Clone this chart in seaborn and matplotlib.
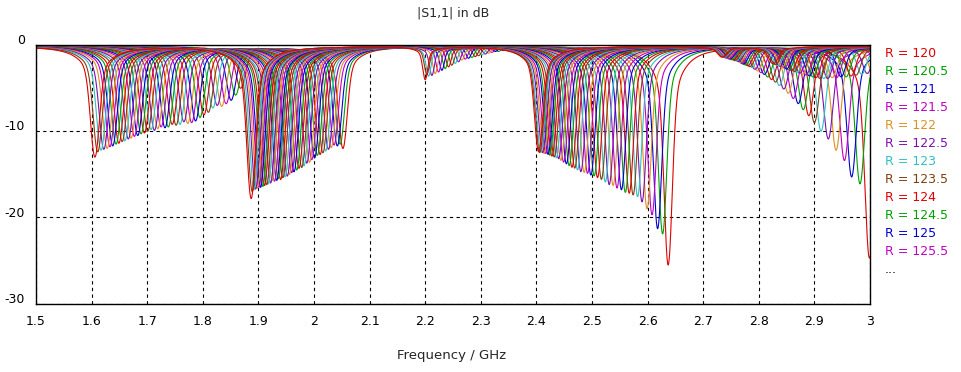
import numpy as np
import pandas as pd
import matplotlib
matplotlib.use("Agg")
import matplotlib.pyplot as plt
import matplotlib.transforms as mtrans
import seaborn as sns

# ---------------- data ----------------
R_values = [120, 120.5, 121, 121.5, 122, 122.5, 123, 123.5, 124, 124.5, 125, 125.5,
            126, 126.5, 127, 127.5, 128, 128.5, 129, 129.5, 130, 130.5, 131, 131.5,
            132, 132.5, 133, 133.5, 134, 134.5, 135, 135.5, 136, 136.5, 137, 137.5,
            138, 138.5, 139, 139.5, 140]

# resonance 1 (1.6 - 1.87 GHz): dip frequency (GHz) and dip depth (dB) per R
band1_freq = [1.868, 1.859, 1.851, 1.842, 1.834, 1.826, 1.818, 1.810, 1.802, 1.795, 1.787,
              1.780, 1.773, 1.766, 1.759, 1.752, 1.745, 1.738, 1.732, 1.725, 1.719, 1.713,
              1.707, 1.701, 1.695, 1.689, 1.683, 1.677, 1.671, 1.666, 1.660, 1.655, 1.649,
              1.644, 1.638, 1.633, 1.628, 1.622, 1.617, 1.611, 1.606]
band1_depth = [-4.8, -5.6, -6.2, -6.6, -6.9, -6.8, -7.1, -7.6, -7.9, -8.2, -8.6, -8.8, -8.9,
               -8.7, -9.0, -9.1, -9.0, -9.3, -9.4, -9.3, -9.5, -9.7, -9.6, -9.8, -10.0, -10.1,
               -10.3, -10.4, -10.6, -10.7, -10.9, -11.0, -11.2, -11.3, -11.5, -11.6, -11.8,
               -11.9, -12.0, -12.2, -12.8]

# resonance 2 (1.89 - 2.05 GHz)
band2_freq = [2.052, 2.047, 2.042, 2.036, 2.031, 2.026, 2.021, 2.016, 2.011, 2.006, 2.001,
              1.996, 1.992, 1.987, 1.982, 1.978, 1.973, 1.969, 1.964, 1.960, 1.956, 1.952,
              1.948, 1.944, 1.940, 1.936, 1.933, 1.929, 1.925, 1.922, 1.918, 1.915, 1.911,
              1.908, 1.904, 1.901, 1.898, 1.895, 1.892, 1.889, 1.887]
band2_depth = [-11.8, -11.3, -11.5, -11.4, -11.7, -11.9, -12.1, -12.3, -12.5, -12.6, -12.9,
               -13.1, -13.4, -13.5, -13.8, -14.0, -14.1, -14.3, -14.5, -14.6, -14.8, -15.0,
               -15.1, -15.2, -15.4, -15.3, -15.5, -15.6, -15.5, -15.8, -15.9, -16.0, -16.1,
               -16.2, -16.3, -16.3, -16.4, -16.5, -16.6, -16.8, -17.6]

# weak resonance near 2.2 - 2.34 GHz
weak_freq = [2.40, 2.40, 2.40, 2.40, 2.40, 2.40, 2.40, 2.40, 2.40, 2.40, 2.40, 2.40,
             2.40, 2.40, 2.40, 2.40, 2.340, 2.332, 2.326, 2.320, 2.314, 2.308, 2.302,
             2.296, 2.290, 2.284, 2.278, 2.272, 2.266, 2.260, 2.254, 2.248, 2.242, 2.236,
             2.230, 2.224, 2.218, 2.212, 2.206, 2.203, 2.200]
weak_depth = [0.0, 0.0, 0.0, 0.0, 0.0, 0.0, 0.0, 0.0, 0.0, 0.0, 0.0, 0.0, 0.0, 0.0, 0.0,
              0.0, -0.4, -0.5, -0.5, -0.6, -0.7, -0.8, -0.9, -1.0, -1.1, -1.2, -1.3, -1.4,
              -1.5, -1.7, -1.9, -2.1, -2.3, -2.5, -2.7, -2.9, -3.1, -3.3, -3.4, -3.2, -3.8]

# resonance 3 (2.40 - 2.64 GHz)
band3_freq = [2.637, 2.627, 2.618, 2.608, 2.599, 2.590, 2.582, 2.574, 2.567, 2.560, 2.553,
              2.545, 2.538, 2.531, 2.524, 2.517, 2.510, 2.504, 2.498, 2.492, 2.486, 2.480,
              2.474, 2.469, 2.464, 2.459, 2.454, 2.449, 2.444, 2.440, 2.436, 2.432, 2.428,
              2.424, 2.421, 2.417, 2.414, 2.411, 2.408, 2.406, 2.404]
band3_depth = [-25.3, -21.7, -21.1, -19.5, -18.8, -18.0, -17.4, -17.2, -17.0, -16.9, -16.6,
               -16.4, -16.1, -16.0, -15.7, -15.4, -15.2, -15.0, -14.9, -14.7, -14.6, -14.5,
               -14.3, -14.1, -14.0, -13.8, -13.6, -13.4, -13.2, -13.0, -12.9, -12.8, -12.7,
               -12.6, -12.5, -12.4, -12.4, -12.3, -12.2, -12.3, -12.2]

# resonance 4 (2.73 - 3.0 GHz)
band4_freq = [2.999, 2.982, 2.967, 2.954, 2.939, 2.925, 2.912, 2.900, 2.890, 2.880, 2.871,
              2.862, 2.853, 2.845, 2.837, 2.830, 2.823, 2.816, 2.810, 2.804, 2.798, 2.793,
              2.788, 2.784, 2.780, 2.776, 2.772, 2.769, 2.766, 2.763, 2.760, 2.757, 2.754,
              2.751, 2.748, 2.746, 2.743, 2.741, 2.738, 2.736, 2.734]
band4_depth = [-24.5, -15.9, -15.1, -13.2, -12.0, -10.7, -9.8, -8.8, -8.0, -7.3, -6.6, -6.0,
               -5.4, -4.9, -4.5, -4.1, -3.8, -3.5, -3.2, -3.0, -2.8, -2.6, -2.4, -2.3, -2.2,
               -2.1, -2.0, -1.9, -1.8, -1.7, -1.6, -1.6, -1.5, -1.5, -1.4, -1.4, -1.3, -1.3,
               -1.2, -1.2, -1.2]

# resonance 5 (entering from above 3 GHz)
band5_freq = [3.200, 3.180, 3.160, 3.140, 3.120, 3.100, 3.085, 3.070, 3.055, 3.040, 3.028,
              3.016, 3.005, 2.995, 2.985, 2.975, 2.966, 2.957, 2.948, 2.940, 2.932, 2.924,
              2.917, 2.910, 2.903, 2.897, 2.891, 2.885, 2.879, 2.874, 2.869, 2.864, 2.859,
              2.854, 2.850, 2.846, 2.842, 2.838, 2.834, 2.830, 2.826]
band5_depth = [-2.6, -2.6, -2.6, -2.7, -2.7, -2.7, -2.8, -2.8, -2.8, -2.9, -2.9, -3.0,
               -3.0, -3.1, -3.2, -3.3, -3.4, -3.5, -3.5, -3.6, -3.6, -3.7, -3.7, -3.7, -3.6,
               -3.5, -3.4, -3.3, -3.2, -3.1, -3.0, -2.9, -2.8, -2.7, -2.6, -2.5, -2.4, -2.3,
               -2.2, -2.1, -2.0]

baseline_db = -0.2
band_width = [0.011, 0.0105, 0.006, 0.010, 0.011, 0.011]   # GHz, dip core width per band
core_share = 0.75

line_colors = ['#e00000', '#00a000', '#0000d0', '#c000c0',
               '#e09020', '#7a10b0', '#30c0c0', '#804010']

# ---------------- build curves ----------------
freq = np.linspace(1.5, 3.0, 3001)


def dip_db(f, f0, depth_db, s):
    u = (f - f0) / s
    shape = core_share * np.exp(-u ** 2) + (1 - core_share) / (1 + (u / 2.5) ** 2)
    return depth_db * shape


bands = [(band1_freq, band1_depth), (band2_freq, band2_depth), (weak_freq, weak_depth),
         (band3_freq, band3_depth), (band4_freq, band4_depth), (band5_freq, band5_depth)]

frames = []
labels = [f"R = {r:g}" for r in R_values]
for i, lab in enumerate(labels):
    db = np.full_like(freq, baseline_db)
    for (bf, bd), s in zip(bands, band_width):
        db = db + dip_db(freq, bf[i], bd[i], s)
    frames.append(pd.DataFrame({"freq": freq, "db": db, "R": lab}))
df = pd.concat(frames, ignore_index=True)

palette = [line_colors[i % len(line_colors)] for i in range(len(labels))]

# ---------------- plot ----------------
sns.set_style("white")
plt.rcParams['font.family'] = ['DejaVu Sans']
plt.rcParams['axes.unicode_minus'] = False

W, H = 961, 372
fig = plt.figure(figsize=(W / 100, H / 100), dpi=100)
ax = fig.add_axes([36 / W, 1 - 303.5 / H, (870 - 36) / W, (303.5 - 44.5) / H])

sns.lineplot(data=df, x="freq", y="db", hue="R", hue_order=labels, palette=palette,
             estimator=None, errorbar=None, sort=False, legend=False, linewidth=0.8, ax=ax)

ax.set_xlim(1.5, 3.0)
ax.set_ylim(-30, 0)
xt = [1.5, 1.6, 1.7, 1.8, 1.9, 2.0, 2.1, 2.2, 2.3, 2.4, 2.5, 2.6, 2.7, 2.8, 2.9, 3.0]
ax.set_xticks(xt)
ax.set_xticklabels([f"{v:g}" for v in xt])
yt = [0, -10, -20, -30]
ax.set_yticks(yt)
ax.set_yticklabels([str(v) for v in yt])
ax.tick_params(axis='both', length=0, labelsize=9, colors='black')
ax.tick_params(axis='x', pad=8)
ax.tick_params(axis='y', pad=8)
for lab in ax.get_yticklabels():
    lab.set_transform(lab.get_transform() + mtrans.ScaledTranslation(0, 4 / 72, fig.dpi_scale_trans))

ax.grid(True, color='black', linestyle=(0, (3, 3)), linewidth=0.8)
ax.set_axisbelow(True)
for s in ax.spines.values():
    s.set_visible(True)
    s.set_color('black')
    s.set_linewidth(1.0)

ax.set_xlabel("")
ax.set_ylabel("")
fig.text(452 / W, 1 - 355 / H, "Frequency / GHz", ha='center', va='center', fontsize=9.5)
fig.text(453 / W, 1 - 13 / H, "|S1,1| in dB", ha='center', va='center', fontsize=9)

# legend: coloured text entries
for i in range(12):
    fig.text(885 / W, 1 - (53.3 + 18 * i) / H, labels[i], color=palette[i],
             ha='left', va='center', fontsize=9)
fig.text(885 / W, 1 - (53.3 + 18 * 12) / H, "...", color='black', ha='left', va='center', fontsize=9)

fig.savefig("out.png", dpi=100, facecolor='white')
